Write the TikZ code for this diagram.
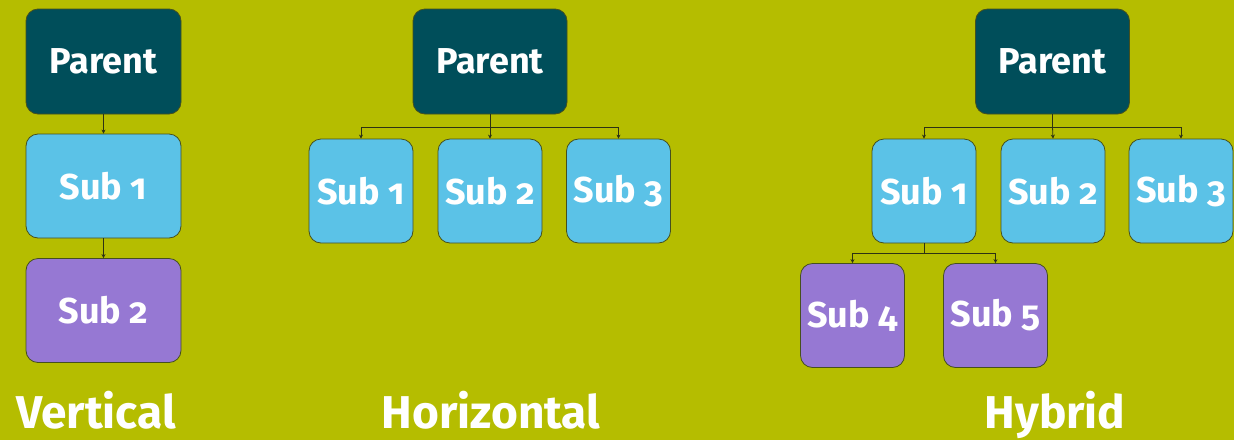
\documentclass[tikz,border=0pt]{standalone}
\usepackage{fontspec}
\setmainfont{Fira Sans}[Numbers=OldStyle]
\usetikzlibrary{arrows.meta}
\definecolor{bg}{RGB}{181,189,0}
\definecolor{parentc}{RGB}{0,78,90}
\definecolor{subc}{RGB}{91,194,231}
\definecolor{purc}{RGB}{150,120,211}
\definecolor{edgec}{RGB}{70,80,30}
\definecolor{linec}{RGB}{45,50,20}
\tikzset{
  box/.style={draw=edgec, line width=0.8pt, rounded corners=12pt, text=white,
    font=\bfseries\fontsize{36}{40}\selectfont, inner sep=0pt},
  parentbox/.style={box, fill=parentc, minimum width=154pt, minimum height=105pt},
  subbox/.style={box, fill=subc, minimum width=104pt, minimum height=104pt},
  wsub/.style={subbox, minimum width=155pt},
  purbox/.style={box, fill=purc, minimum width=104pt, minimum height=104pt},
  wpur/.style={purbox, minimum width=155pt},
  conn/.style={draw=linec, line width=0.8pt, -{Stealth[length=4pt,width=4pt]}},
  title/.style={text=white, font=\bfseries\fontsize{46}{50}\selectfont, inner sep=0pt, anchor=base}
}
\begin{document}
\begin{tikzpicture}[x=1pt,y=-1pt]
\fill[bg] (0,0) rectangle (1234,440);
\useasboundingbox (0,0) rectangle (1234,440);
% Vertical
\node[parentbox, minimum width=155pt] (vp) at (103.5,61.5) {Parent};
\node[wsub] (vs1) at (103.5,186) {Sub 1};
\node[wpur] (vs2) at (103.5,310.5) {Sub 2};
\draw[conn] (vp.south) -- (vs1.north);
\draw[conn] (vs1.south) -- (vs2.north);
\node[title] (vt) at (96,428) {Vertical};
% Horizontal
\node[parentbox] (hp) at (490,61.5) {Parent};
\node[subbox] (hs1) at (361,191) {Sub 1};
\node[subbox] (hs2) at (490,191) {Sub 2};
\node[subbox] (hs3) at (618.5,191) {Sub 3};
\coordinate (hb) at (490,127);
\draw[linec, line width=0.8pt] (hp.south) -- (hb);
\draw[conn] (hb) -| (hs1.north);
\draw[conn] (hb) -- (hs2.north);
\draw[conn] (hb) -| (hs3.north);
\node[title] (ht) at (491,428) {Horizontal};
% Hybrid
\node[parentbox] (yp) at (1052.5,61.5) {Parent};
\node[subbox] (ys1) at (924,191) {Sub 1};
\node[subbox] (ys2) at (1053,191) {Sub 2};
\node[subbox] (ys3) at (1181,191) {Sub 3};
\node[purbox] (ys4) at (852.5,315.5) {Sub 4};
\node[purbox] (ys5) at (995.5,315.5) {Sub 5};
\coordinate (yb) at (1052.5,127);
\draw[linec, line width=0.8pt] (yp.south) -- (yb);
\draw[conn] (yb) -| (ys1.north);
\draw[conn] (yb) -- (ys2.north);
\draw[conn] (yb) -| (ys3.north);
\coordinate (yb2) at (924,253);
\draw[linec, line width=0.8pt] (ys1.south) -- (yb2);
\draw[conn] (yb2) -| (ys4.north);
\draw[conn] (yb2) -| (ys5.north);
\node[title] (yt) at (1055,428) {Hybrid};
\end{tikzpicture}
\end{document}
